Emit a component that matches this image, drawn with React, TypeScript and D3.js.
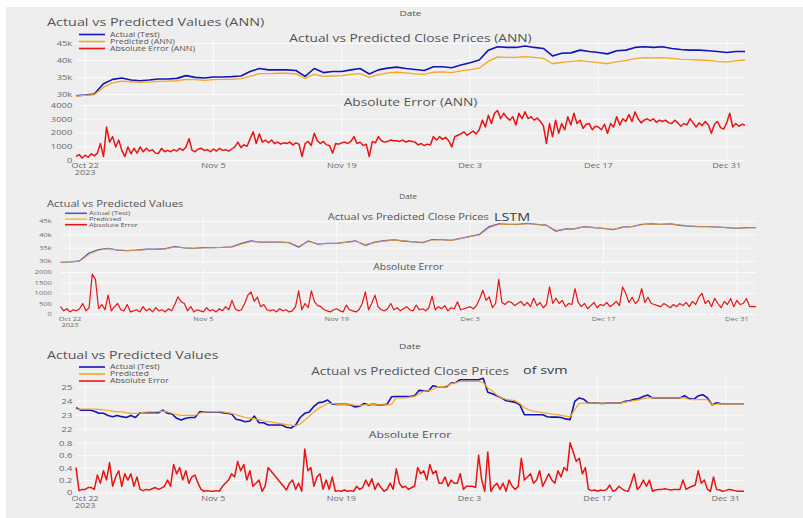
import * as d3 from "d3";
import { useRef, useEffect } from "react";

// shared time axis (UTC) for the three model runs
const seriesStart = "2023-10-21";
const seriesEnd = "2024-01-02";
const tickDays = ["2023-10-22", "2023-11-05", "2023-11-19", "2023-12-03", "2023-12-17", "2023-12-31"];

// BTC close, thousands USD, one value per day
const actualClose = [
  29.5, 29.7, 30.0, 33.0, 34.3, 34.7, 34.1, 33.9, 34.1, 34.4, 34.4, 34.6, 35.4, 34.9, 34.7, 35.0,
  35.0, 35.1, 35.3, 36.6, 37.5, 37.1, 37.1, 37.1, 36.9, 35.2, 37.5, 36.3, 36.6, 36.6, 37.1, 37.5,
  35.9, 37.1, 37.6, 37.9, 37.5, 37.2, 36.9, 38.0, 38.0, 37.7, 38.5, 39.2, 40.0, 42.9, 43.9, 43.7,
  43.7, 44.1, 43.7, 43.4, 41.2, 42.0, 42.1, 42.9, 42.5, 42.2, 41.8, 42.7, 42.9, 43.7, 43.9, 43.7,
  43.9, 43.4, 43.1, 42.9, 42.9, 42.7, 42.5, 42.2, 42.5, 42.5,
];
const annPredicted = [
  29.4, 29.6, 29.8, 32.0, 33.3, 33.8, 33.6, 33.4, 33.5, 33.7, 33.8, 33.9, 34.3, 34.2, 34.0, 34.2,
  34.3, 34.3, 34.5, 35.2, 36.0, 36.0, 36.1, 36.1, 35.9, 34.6, 35.8, 35.2, 35.3, 35.4, 35.8, 36.0,
  34.9, 35.7, 36.2, 36.4, 36.2, 35.9, 35.8, 36.4, 36.5, 36.3, 36.8, 37.2, 37.6, 39.6, 40.9, 40.8,
  40.8, 41.0, 40.8, 40.5, 38.9, 39.3, 39.6, 39.8, 39.5, 39.2, 38.9, 39.5, 39.8, 40.4, 40.7, 40.6,
  40.7, 40.5, 40.2, 40.1, 40.0, 39.9, 39.6, 39.4, 39.8, 40.0,
];
const lstmPredicted = [
  29.5, 29.7, 29.9, 32.4, 34.0, 34.6, 34.2, 33.9, 34.0, 34.3, 34.4, 34.5, 35.2, 35.0, 34.7, 34.9,
  35.0, 35.1, 35.2, 36.3, 37.3, 37.2, 37.1, 37.1, 36.9, 35.5, 37.2, 36.5, 36.6, 36.6, 37.0, 37.4,
  36.2, 36.9, 37.5, 37.8, 37.6, 37.2, 37.0, 37.8, 38.0, 37.7, 38.4, 39.1, 39.8, 42.4, 43.7, 43.7,
  43.6, 44.0, 43.8, 43.4, 41.5, 41.9, 42.1, 42.8, 42.6, 42.2, 41.9, 42.5, 42.9, 43.6, 43.8, 43.7,
  43.9, 43.5, 43.2, 42.9, 42.9, 42.7, 42.5, 42.3, 42.4, 42.5,
];

// absolute error, one value every 8 hours
const annError = [
  250, 400, 150, 350, 200, 450, 300, 500, 1200, 250, 2400, 1300, 1700, 950, 1450, 700, 250, 950,
  450, 850, 500, 950, 600, 850, 650, 750, 500, 480, 850, 600, 700, 600, 750, 650, 850, 700,
  950, 1550, 700, 600, 800, 850, 700, 750, 600, 800, 650, 850, 700, 750, 650, 800, 950, 1300,
  900, 1100, 1000, 1550, 2050, 1200, 1900, 1300, 1450, 1250, 1450, 1200, 1300, 1150, 1250, 1200, 1300, 1100,
  1250, 1150, 250, 1200, 1350, 1050, 1950, 1400, 1200, 1350, 1100, 1050, 500, 1200, 1150, 1250, 1300, 1200,
  1350, 1700, 1200, 1300, 1050, 1150, 250, 1350, 1250, 1700, 1400, 1300, 1350, 1450, 1400, 1400, 1350, 1450,
  1300, 1400, 1350, 1300, 1100, 1200, 1050, 1150, 1100, 1700, 1450, 1700, 1500, 1650, 1400, 950, 1700, 1800,
  1900, 2050, 1800, 1950, 2100, 1900, 2200, 2900, 2400, 3250, 2650, 3400, 3600, 3000, 3400, 3100, 2900, 3150,
  2550, 3400, 3000, 3500, 3000, 3150, 2900, 3050, 2800, 2500, 1200, 2650, 1700, 2900, 1950, 2650, 2200, 3150,
  2550, 3400, 2650, 2900, 2300, 2600, 2650, 2200, 2450, 2400, 2200, 2600, 1950, 2650, 2400, 3150, 2550, 3000,
  2800, 3300, 2800, 3500, 3000, 2700, 2900, 3000, 2850, 3000, 2750, 2900, 2800, 2900, 2700, 2650, 2900, 2700,
  2450, 2650, 2550, 3000, 2700, 2400, 2700, 2500, 2800, 2550, 1950, 2600, 2800, 2350, 2250, 2700, 3400, 2400,
  2650, 2450, 2600, 2550,
];
const lstmError = [
  350, 150, 250, 100, 200, 150, 250, 500, 150, 300, 1900, 1650, 250, 450, 200, 900, 150, 350,
  500, 200, 150, 450, 100, 150, 200, 100, 350, 150, 250, 100, 300, 150, 200, 100, 250, 150,
  450, 820, 580, 500, 150, 350, 100, 200, 150, 100, 300, 150, 200, 100, 250, 150, 350, 200,
  650, 250, 150, 200, 500, 900, 1050, 600, 800, 350, 450, 200, 150, 200, 100, 250, 150, 200,
  100, 150, 350, 1100, 200, 500, 300, 1100, 580, 400, 350, 200, 150, 100, 200, 250, 150, 100,
  425, 200, 150, 100, 200, 500, 1050, 200, 500, 900, 350, 200, 150, 250, 500, 200, 300, 150,
  250, 350, 200, 150, 425, 200, 250, 150, 300, 850, 200, 350, 250, 400, 150, 300, 250, 580,
  200, 250, 300, 350, 250, 400, 740, 1130, 650, 820, 300, 500, 1650, 550, 450, 600, 550, 400,
  500, 600, 400, 550, 350, 750, 400, 550, 300, 450, 1290, 500, 750, 500, 650, 350, 500, 450,
  1210, 550, 350, 500, 250, 400, 550, 300, 450, 400, 550, 350, 450, 600, 400, 1290, 980, 550,
  800, 500, 650, 1210, 550, 800, 500, 450, 400, 350, 500, 400, 300, 450, 350, 500, 400, 550,
  350, 600, 450, 800, 980, 500, 650, 350, 750, 500, 300, 600, 450, 740, 350, 650, 450, 500,
  740, 350, 350, 350,
];

// second asset for the SVM run, one value every 12 hours
const svmActual = [
  23.5, 23.33, 23.33, 23.33, 23.25, 23.1, 23.1, 22.95, 22.86, 22.95, 22.86, 22.8, 22.95, 22.8, 23.14, 23.14,
  23.14, 23.14, 23.14, 23.33, 23.1, 23.05, 22.74, 22.62, 22.75, 22.8, 22.8, 23.2, 23.2, 23.2, 23.2, 23.2,
  23.15, 23.1, 23.05, 22.67, 22.6, 22.5, 22.55, 22.9, 22.43, 22.43, 22.26, 22.26, 22.26, 22.26, 22.1, 22.05,
  22.26, 22.8, 23.1, 23.2, 23.6, 23.86, 23.9, 24.05, 23.76, 23.74, 23.74, 23.74, 23.7, 23.55, 23.6, 23.8,
  23.7, 23.75, 23.7, 23.7, 23.75, 24.28, 24.3, 24.3, 24.3, 24.3, 24.35, 24.74, 24.7, 24.67, 25.07, 25.0,
  25.0, 25.0, 25.26, 25.3, 25.5, 25.5, 25.5, 25.5, 25.5, 25.6, 24.6, 24.5, 24.35, 24.2, 24.0, 23.95,
  23.88, 23.7, 23.0, 23.0, 23.0, 23.0, 23.0, 22.85, 22.83, 22.83, 22.8, 22.7, 22.65, 23.95, 24.2, 24.1,
  23.83, 23.83, 23.83, 23.8, 23.83, 23.83, 23.83, 23.83, 23.95, 24.0, 24.1, 24.15, 24.3, 24.4, 24.2, 24.2,
  24.2, 24.2, 24.2, 24.2, 24.2, 24.36, 24.15, 24.1, 24.35, 24.43, 24.2, 23.7, 23.85, 23.78, 23.78, 23.78,
  23.78, 23.78, 23.78,
];
const svmPredicted = [
  23.4, 23.4, 23.4, 23.4, 23.4, 23.38, 23.35, 23.3, 23.25, 23.2, 23.2, 23.15, 23.1, 23.1, 23.12, 23.18,
  23.2, 23.2, 23.22, 23.25, 23.2, 23.1, 23.0, 22.95, 22.95, 22.95, 22.95, 23.1, 23.2, 23.22, 23.22, 23.22,
  23.2, 23.15, 23.1, 23.0, 22.9, 22.8, 22.75, 22.7, 22.65, 22.55, 22.5, 22.45, 22.4, 22.35, 22.3, 22.25,
  22.2, 22.35, 22.6, 22.9, 23.2, 23.45, 23.62, 23.8, 23.8, 23.75, 23.72, 23.72, 23.7, 23.68, 23.65, 23.7,
  23.72, 23.72, 23.7, 23.7, 23.7, 23.75, 24.2, 24.2, 24.2, 24.25, 24.3, 24.5, 24.67, 24.7, 24.8, 25.0,
  25.0, 25.05, 25.2, 25.3, 25.38, 25.38, 25.38, 25.38, 25.38, 25.3, 24.9, 24.7, 24.4, 24.2, 24.1, 24.05,
  24.0, 23.8, 23.5, 23.35, 23.24, 23.2, 23.15, 23.1, 23.05, 23.0, 22.95, 22.9, 22.85, 23.36, 23.8, 23.83,
  23.83, 23.83, 23.83, 23.83, 23.83, 23.83, 23.83, 23.83, 23.9, 23.95, 24.0, 24.05, 24.15, 24.2, 24.2, 24.2,
  24.2, 24.2, 24.2, 24.2, 24.2, 24.2, 24.1, 24.07, 24.07, 24.07, 24.07, 23.7, 23.75, 23.78, 23.78, 23.78,
  23.78, 23.78, 23.78,
];
// every 8 hours
const svmError = [
  0.4, 0.03, 0.05, 0.05, 0.08, 0.08, 0.05, 0.28, 0.15, 0.35, 0.2, 0.48, 0.1, 0.25, 0.35, 0.1, 0.3, 0.2,
  0.3, 0.1, 0.25, 0.05, 0.03, 0.05, 0.04, 0.06, 0.08, 0.05, 0.07, 0.1, 0.2, 0.1, 0.45, 0.3, 0.4, 0.2,
  0.35, 0.15, 0.25, 0.28, 0.15, 0.05, 0.02, 0.03, 0.02, 0.02, 0.03, 0.02, 0.1, 0.15, 0.2, 0.3, 0.25, 0.5,
  0.35, 0.45, 0.2, 0.35, 0.1, 0.15, 0.2, 0.02, 0.1, 0.4, 0.34, 0.28, 0.22, 0.16, 0.1, 0.04, 0.15, 0.2,
  0.05, 0.15, 0.02, 0.7, 0.35, 0.4, 0.1, 0.25, 0.3, 0.05, 0.2, 0.05, 0.25, 0.02, 0.03, 0.02, 0.04, 0.02,
  0.03, 0.02, 0.1, 0.05, 0.08, 0.2, 0.1, 0.22, 0.05, 0.15, 0.08, 0.02, 0.05, 0.15, 0.05, 0.38, 0.15, 0.08,
  0.1, 0.05, 0.08, 0.1, 0.4, 0.3, 0.35, 0.2, 0.45, 0.3, 0.35, 0.15, 0.15, 0.25, 0.1, 0.2, 0.15, 0.15,
  0.3, 0.05, 0.1, 0.1, 0.1, 0.08, 0.6, 0.2, 0.02, 0.65, 0.02, 0.1, 0.15, 0.05, 0.15, 0.02, 0.2, 0.1,
  0.05, 0.1, 0.55, 0.2, 0.25, 0.3, 0.15, 0.2, 0.35, 0.1, 0.2, 0.3, 0.2, 0.15, 0.35, 0.25, 0.4, 0.35,
  0.8, 0.65, 0.5, 0.55, 0.3, 0.4, 0.05, 0.03, 0.04, 0.02, 0.04, 0.03, 0.05, 0.12, 0.02, 0.04, 0.1, 0.06,
  0.03, 0.02, 0.15, 0.3, 0.05, 0.1, 0.2, 0.1, 0.2, 0.02, 0.04, 0.05, 0.05, 0.06, 0.05, 0.04, 0.05, 0.05,
  0.05, 0.2, 0.05, 0.08, 0.1, 0.12, 0.35, 0.15, 0.2, 0.05, 0.02, 0.25, 0.05, 0.04, 0.02, 0.03, 0.05, 0.04,
  0.03, 0.02, 0.02, 0.02,
];

const annLegend = ["Actual (Test)", "Predicted (ANN)", "Absolute Error (ANN)"];
const plainLegend = ["Actual (Test)", "Predicted", "Absolute Error"];

const font = "'Open Sans', 'Liberation Sans', Arial, sans-serif";
// the source screenshot is stretched sideways, so every text gets the same squash
const stretch = 1.25;
const paper = "#eeeeee";
const gridColor = "#fbfbfb";
const textColor = "#555";
const tickColor = "#6a6a6a";
const blue = "#1414b4";
const orange = "#f5a623";
const red = "#e81414";

const thousands = (d) => `${d}k`;

const panels = [
  {
    xRange: [76, 745],
    actual: actualClose, predicted: annPredicted, error: annError, priceStep: 24, errStep: 8,
    priceDomain: [30, 45], priceRange: [94, 43], priceBand: [40, 97], priceTicks: [30, 35, 40, 45], priceFmt: thousands,
    errDomain: [0, 4000], errRange: [160, 105], errBand: [103, 161], errTicks: [0, 1000, 2000, 3000, 4000], errFmt: d3.format("d"),
    tickPad: 3, tickSize: 7.5,
    dateY: 16, dateSize: 8,
    title: "Actual vs Predicted Values (ANN)", titleY: 26, titleSize: 11.5,
    legend: annLegend, legX: [79, 105, 110], legY: [34.5, 41.5, 48.5], legSize: 7, lineAlpha: 1,
    priceTitle: "Actual vs Predicted Close Prices (ANN)", priceTitleY: 41.5, priceTitleSize: 11, extra: null,
    errTitle: "Absolute Error (ANN)", errTitleY: 105.5, errTitleSize: 11,
    xLabelY: 167.5, yearY: 174.5, xLabelSize: 7.3,
    widths: [1.6, 1.3, 1.5],
  },
  {
    xRange: [60.5, 756],
    actual: actualClose, predicted: lstmPredicted, error: lstmError, priceStep: 24, errStep: 8,
    priceDomain: [30, 45], priceRange: [261, 221], priceBand: [217, 264], priceTicks: [30, 35, 40, 45], priceFmt: thousands,
    errDomain: [0, 2000], errRange: [314, 272], errBand: [268, 316], errTicks: [0, 500, 1000, 1500, 2000], errFmt: d3.format("d"),
    tickPad: 7, tickSize: 6,
    dateY: 198.5, dateSize: 6.5,
    title: "Actual vs Predicted Values", titleY: 207, titleSize: 9,
    legend: plainLegend, legX: [65, 87, 89], legY: [213.3, 219, 224.7], legSize: 5.8, lineAlpha: 0.7,
    priceTitle: "Actual vs Predicted Close Prices", priceTitleY: 219.5, priceTitleSize: 8.8,
    extra: { text: "LSTM", x: 494, y: 220.5, size: 11.5 },
    errTitle: "Absolute Error", errTitleY: 270, errTitleSize: 8.3,
    xLabelY: 320.5, yearY: 327, xLabelSize: 6,
    widths: [1.3, 0.9, 1.2],
  },
  {
    xRange: [76, 744],
    actual: svmActual, predicted: svmPredicted, error: svmError, priceStep: 12, errStep: 8,
    priceDomain: [22, 25], priceRange: [428.7, 386.7], priceBand: [377, 432], priceTicks: [22, 23, 24, 25], priceFmt: d3.format("d"),
    errDomain: [0, 0.8], errRange: [492.5, 442.7], errBand: [438, 494], errTicks: [0, 0.2, 0.4, 0.6, 0.8],
    errFmt: (d) => (d === 0 ? "0" : d3.format(".1f")(d)),
    tickPad: 3, tickSize: 7.5,
    dateY: 348.5, dateSize: 8,
    title: "Actual vs Predicted Values", titleY: 359, titleSize: 11.3,
    legend: plainLegend, legX: [79, 105, 110], legY: [367, 374, 381], legSize: 7, lineAlpha: 1,
    priceTitle: "Actual vs Predicted Close Prices", priceTitleY: 374.5, priceTitleSize: 10.8,
    extra: { text: "of svm", x: 523, y: 374, size: 11.5 },
    errTitle: "Absolute Error", errTitleY: 437.5, errTitleSize: 9.8,
    xLabelY: 500.5, yearY: 507.5, xLabelSize: 7.2,
    widths: [1.6, 1.2, 1.5],
  },
];

// text placed at (x, y), squashed sideways around its anchor
function label(parent, text, x, y, size, opts = {}) {
  return parent.append("text")
    .attr("transform", `translate(${x},${y}) scale(${stretch},1)`)
    .attr("text-anchor", opts.anchor || "start")
    .attr("dy", opts.dy || null)
    .attr("font-size", size)
    .attr("fill", opts.color || textColor)
    .text(text);
}

function drawPanel(svg, p) {
  const parse = d3.utcParse("%Y-%m-%d");
  const t0 = parse(seriesStart);
  const t1 = parse(seriesEnd);
  const ticks = tickDays.map(parse);
  const [xl, xr] = p.xRange;
  const mid = (xl + xr) / 2;

  const x = d3.scaleUtc().domain([t0, t1]).range(p.xRange);
  const yP = d3.scaleLinear().domain(p.priceDomain).range(p.priceRange);
  const yE = d3.scaleLinear().domain(p.errDomain).range(p.errRange);
  const points = (values, step) => values.map((v, i) => ({ date: d3.utcHour.offset(t0, i * step), value: v }));

  const g = svg.append("g").attr("font-family", font);

  // vertical grid in both subplots
  for (const [top, bottom] of [p.priceBand, p.errBand]) {
    g.append("g")
      .selectAll("line")
      .data(ticks)
      .join("line")
      .attr("x1", (d) => x(d))
      .attr("x2", (d) => x(d))
      .attr("y1", top)
      .attr("y2", bottom)
      .attr("stroke", gridColor);
  }

  // y axes, their ticks drawn as horizontal grid
  const yAxis = (scale, values, fmt) => {
    const a = g.append("g")
      .attr("transform", `translate(${xl},0)`)
      .call(d3.axisLeft(scale).tickValues(values).tickFormat(fmt).tickSize(-(xr - xl)).tickPadding(p.tickPad));
    a.select(".domain").remove();
    a.selectAll("line").attr("stroke", gridColor);
    a.selectAll("text")
      .attr("transform", `scale(${stretch},1)`)
      .attr("font-size", p.tickSize)
      .attr("fill", tickColor)
      .attr("font-family", font);
  };
  yAxis(yP, p.priceTicks, p.priceFmt);
  yAxis(yE, p.errTicks, p.errFmt);

  // x tick labels below the error subplot
  const fmtDay = d3.utcFormat("%b %-d");
  ticks.forEach((d) => label(g, fmtDay(d), x(d), p.xLabelY, p.xLabelSize, { anchor: "middle", color: tickColor }));
  label(g, "2023", x(ticks[0]), p.yearY, p.xLabelSize, { anchor: "middle", color: tickColor });

  // series
  const line = (y) => d3.line().x((d) => x(d.date)).y((d) => y(d.value));
  g.append("path")
    .datum(points(p.actual, p.priceStep))
    .attr("d", line(yP))
    .attr("fill", "none")
    .attr("stroke", blue)
    .attr("stroke-opacity", p.lineAlpha)
    .attr("stroke-width", p.widths[0])
    .attr("stroke-linejoin", "round");
  g.append("path")
    .datum(points(p.predicted, p.priceStep))
    .attr("d", line(yP))
    .attr("fill", "none")
    .attr("stroke", orange)
    .attr("stroke-opacity", p.lineAlpha === 1 ? 1 : 0.85)
    .attr("stroke-width", p.widths[1])
    .attr("stroke-linejoin", "round");
  g.append("path")
    .datum(points(p.error, p.errStep))
    .attr("d", line(yE))
    .attr("fill", "none")
    .attr("stroke", red)
    .attr("stroke-width", p.widths[2])
    .attr("stroke-linejoin", "round");

  // titles
  label(g, "Date", mid, p.dateY, p.dateSize, { anchor: "middle" });
  label(g, p.title, 47, p.titleY, p.titleSize);
  label(g, p.priceTitle, mid, p.priceTitleY, p.priceTitleSize, { anchor: "middle" });
  if (p.extra) label(g, p.extra.text, p.extra.x, p.extra.y, p.extra.size, { color: "#3a3a3a" });
  label(g, p.errTitle, mid, p.errTitleY, p.errTitleSize, { anchor: "middle" });

  // legend
  const colors = [blue, orange, red];
  p.legend.forEach((name, i) => {
    g.append("line")
      .attr("x1", p.legX[0]).attr("x2", p.legX[1])
      .attr("y1", p.legY[i]).attr("y2", p.legY[i])
      .attr("stroke", colors[i])
      .attr("stroke-opacity", i === 2 ? 1 : p.lineAlpha)
      .attr("stroke-width", 1.6);
    label(g, name, p.legX[2], p.legY[i], p.legSize, { dy: "0.35em" });
  });
}

export default function App() {
  const ref = useRef(null);

  useEffect(() => {
    const svg = d3.select(ref.current);
    svg.selectAll("*").remove();
    svg.append("rect").attr("width", 803).attr("height", 518).attr("fill", "#fff");
    svg.append("rect").attr("x", 6).attr("y", 7).attr("width", 797).attr("height", 511).attr("fill", paper);
    panels.forEach((p) => drawPanel(svg, p));
  }, []);

  return (
    <svg
      ref={ref}
      width={803}
      height={518}
      viewBox="0 0 803 518"
      style={{ position: "absolute", left: 0, top: 0, display: "block" }}
    />
  );
}
